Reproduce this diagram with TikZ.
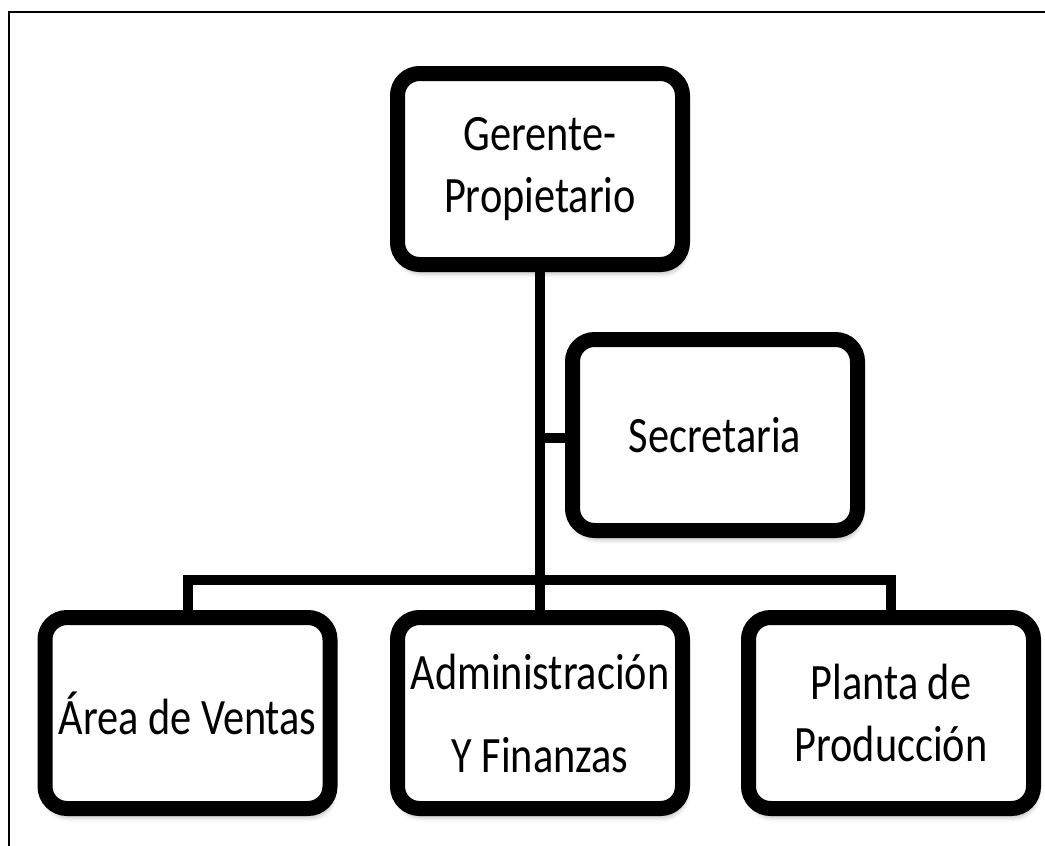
\documentclass[tikz,border=0pt]{standalone}
\usepackage{fontspec}
\usetikzlibrary{shadows.blur,backgrounds}
\newfontfamily\boxfont[FakeStretch=0.83]{Carlito}
\tikzset{
  orgbox/.style={draw=black, line width=15pt, fill=white, rounded corners=22pt,
    minimum width=285pt, minimum height=191pt, inner sep=0pt, align=center,
    font=\boxfont\fontsize{51}{62}\selectfont,
    blur shadow={shadow xshift=2pt, shadow yshift=-7pt, shadow blur radius=6pt, shadow opacity=45}},
  link/.style={draw=black, line width=10pt},
  frame/.style={draw=black, line width=2pt}
}
\begin{document}
\begin{tikzpicture}[x=1pt,y=-1pt]
\useasboundingbox (0,0) rectangle (1045,846);
\draw[frame] (8.5,846) -- (8.5,11.5) -- (1045,11.5);
\node[orgbox] (top) at (540,169) {Gerente-\\Propietario};
\node[orgbox] (sec) at (715,435) {Secretaria};
\node[orgbox] (area) at (187.5,713) {Área de Ventas};
\node[orgbox, font=\boxfont\fontsize{51}{83}\selectfont] (adm) at (540,713) {Administración\\Y Finanzas};
\node[orgbox] (planta) at (891,713) {Planta de\\Producción};
\coordinate (bus) at (540,579.5);
\coordinate (br) at (540,437.5);
\begin{scope}[on background layer]
\draw[link] (top.south) -- (adm.north);
\draw[link] (br) -- (br -| sec.west);
\draw[link] (area.north) |- (bus) -| (planta.north);
\end{scope}
\end{tikzpicture}
\end{document}
